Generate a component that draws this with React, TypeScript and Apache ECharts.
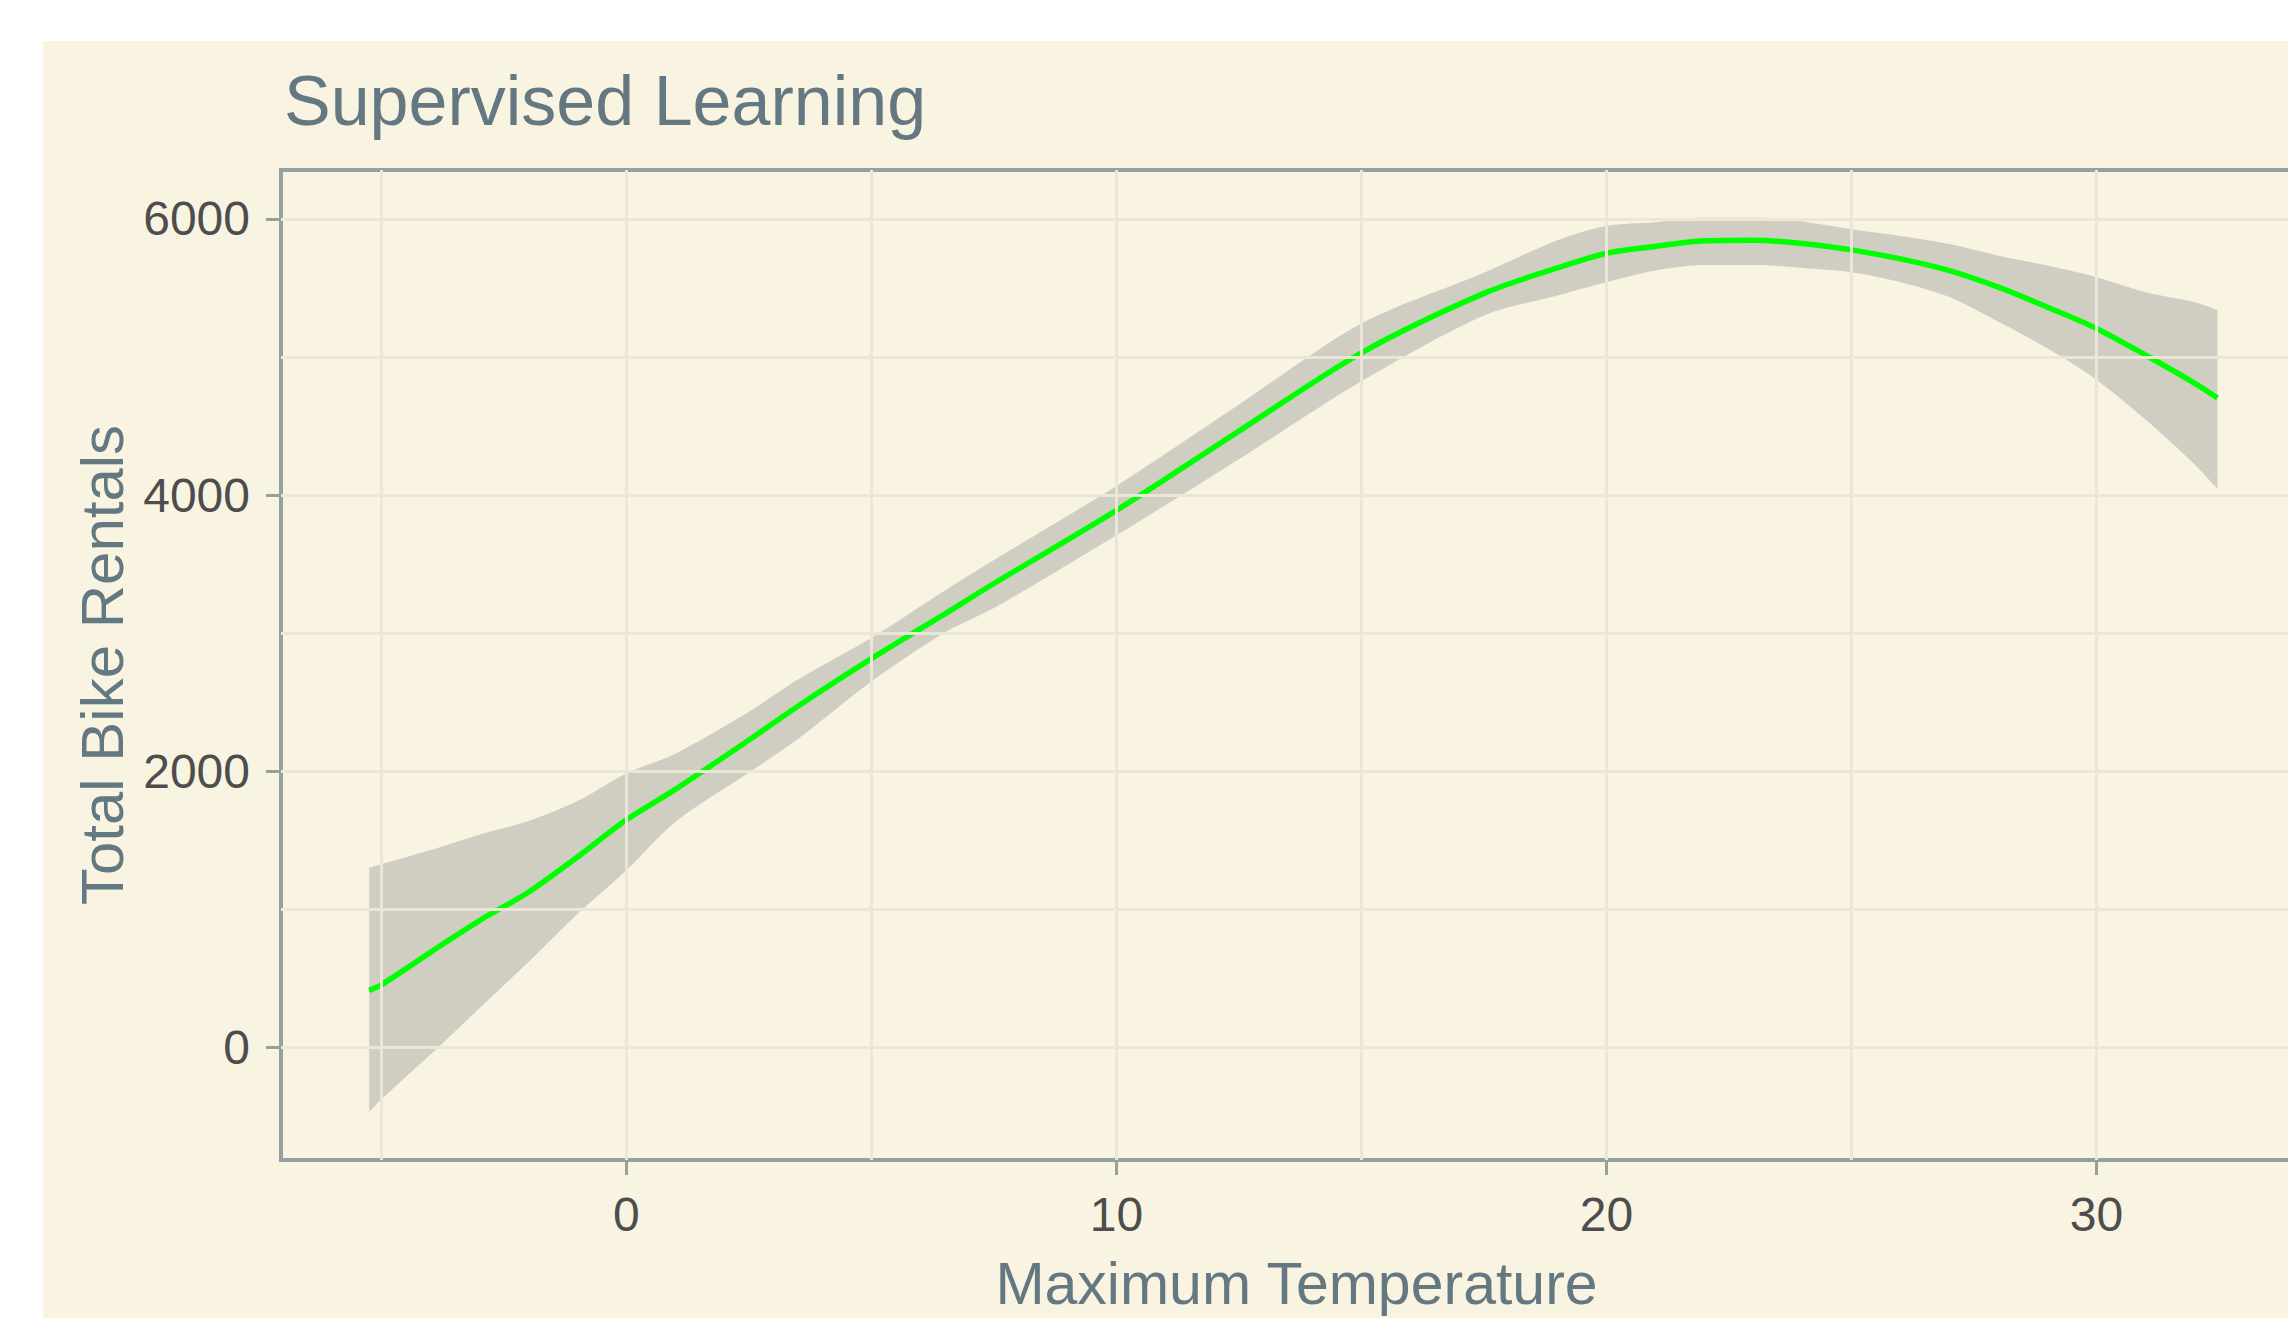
import React, { useEffect, useRef } from "react";
import * as echarts from "echarts";

// Loess fit of total bike rentals against maximum temperature
const temperature = [-5.25, -5, -4, -3, -2, -1, 0, 1, 2.5, 3.5, 5, 6.5, 7.5, 10, 12.5, 15, 17.5, 19, 20, 21, 22, 23, 24, 25, 26, 27, 28, 29, 30, 31, 32, 32.47];
const fitted = [415, 455, 690, 920, 1125, 1380, 1650, 1870, 2227, 2472, 2816, 3140, 3360, 3889, 4463, 5030, 5460, 5644, 5750, 5800, 5841, 5845, 5821, 5775, 5710, 5625, 5505, 5360, 5206, 5014, 4811, 4703];
const lower = [-467, -374, -50, 285, 620, 968, 1285, 1634, 1991, 2234, 2651, 3005, 3182, 3709, 4260, 4823, 5300, 5445, 5541, 5625, 5665, 5665, 5644, 5613, 5541, 5433, 5254, 5062, 4835, 4547, 4224, 4045];
const upper = [1302, 1327, 1430, 1542, 1640, 1785, 1985, 2128, 2431, 2665, 2967, 3310, 3530, 4066, 4655, 5242, 5610, 5845, 5948, 5975, 6010, 6010, 5980, 5924, 5876, 5817, 5733, 5661, 5577, 5469, 5397, 5338];

const xTickValues = [0, 10, 20, 30];
const yTickValues = [0, 2000, 4000, 6000];
const xGridValues = [-5, 0, 5, 10, 15, 20, 25, 30];
const yGridValues = [0, 1000, 2000, 3000, 4000, 5000, 6000];

const FONT = "'Liberation Sans', Arial, sans-serif";
const TITLE_COLOR = "#647882";
const TICK_COLOR = "#4D4D4D";
const BORDER_COLOR = "#93A1A1";
const GRID_COLOR = "#EBE6D5";

export default function App() {
  const ref = useRef<HTMLDivElement>(null);

  useEffect(() => {
    document.body.style.margin = "0";
    document.body.style.background = "#FFFFFF";
    if (!ref.current) return;
    const chart = echarts.init(ref.current, undefined, { renderer: "svg" });

    // value first, temperature second, so that stacking acts on the value dimension
    const lowerData = temperature.map((t, i) => [lower[i], t]);
    const widthData = temperature.map((t, i) => [upper[i] - lower[i], t]);
    const fitData = temperature.map((t, i) => [t, fitted[i]]);

    const axisCommon = {
      type: "value",
      axisLine: { show: true, onZero: false, lineStyle: { color: BORDER_COLOR, width: 4 } },
      splitLine: { show: false },
    };

    chart.setOption({
      animation: false,
      backgroundColor: "#F9F4E1",
      textStyle: { fontFamily: FONT },
      title: {
        text: "Supervised Learning",
        left: 236,
        top: 20,
        textStyle: { fontSize: 70, fontWeight: "normal", color: TITLE_COLOR, fontFamily: FONT },
      },
      grid: {
        left: 238,
        top: 129,
        right: 0,
        bottom: 147,
        show: true,
        borderColor: BORDER_COLOR,
        borderWidth: 4,
        backgroundColor: "transparent",
      },
      xAxis: {
        ...axisCommon,
        min: -7.05,
        max: 34.4,
        name: "Maximum Temperature",
        nameLocation: "middle",
        nameGap: 94,
        nameTextStyle: { fontSize: 59, color: TITLE_COLOR, fontFamily: FONT },
        axisTick: {
          show: true,
          customValues: xTickValues,
          length: 15,
          lineStyle: { color: BORDER_COLOR, width: 3 },
        },
        axisLabel: {
          customValues: xTickValues,
          fontSize: 48,
          color: TICK_COLOR,
          margin: 30,
          fontFamily: FONT,
          formatter: (v: number) => String(v),
        },
      },
      yAxis: {
        ...axisCommon,
        min: -813,
        max: 6353,
        name: "Total Bike Rentals",
        nameLocation: "middle",
        nameGap: 139,
        nameRotate: 90,
        nameTextStyle: { fontSize: 60, color: TITLE_COLOR, fontFamily: FONT },
        axisTick: {
          show: true,
          customValues: yTickValues,
          length: 15,
          lineStyle: { color: BORDER_COLOR, width: 3 },
        },
        axisLabel: {
          customValues: yTickValues,
          fontSize: 48,
          color: TICK_COLOR,
          margin: 31,
          fontFamily: FONT,
          formatter: (v: number) => String(v),
        },
      },
      series: [
        {
          name: "grid",
          type: "line",
          data: [],
          z: 1,
          silent: true,
          markLine: {
            silent: true,
            symbol: ["none", "none"],
            label: { show: false },
            lineStyle: { color: GRID_COLOR, width: 3, type: "solid" },
            emphasis: { disabled: true },
            data: [
              ...xGridValues.map((v) => ({ xAxis: v })),
              ...yGridValues.map((v) => ({ yAxis: v })),
            ],
          },
        },
        {
          name: "lower",
          type: "line",
          data: lowerData,
          encode: { x: 1, y: 0 },
          stack: "band",
          stackStrategy: "all",
          smooth: 0.3,
          symbol: "none",
          z: 2,
          lineStyle: { opacity: 0 },
          silent: true,
        },
        {
          name: "band",
          type: "line",
          data: widthData,
          encode: { x: 1, y: 0 },
          stack: "band",
          stackStrategy: "all",
          smooth: 0.3,
          symbol: "none",
          z: 2,
          lineStyle: { opacity: 0 },
          areaStyle: { color: "rgba(153,153,153,0.42)", opacity: 1 },
          silent: true,
        },
        {
          name: "fit",
          type: "line",
          data: fitData,
          smooth: 0.3,
          symbol: "none",
          z: 3,
          lineStyle: { color: "#00FF00", width: 5.5 },
          silent: true,
        },
      ],
    });

    return () => chart.dispose();
  }, []);

  return (
    <div style={{ position: "relative", width: 2288, height: 1318, background: "#FFFFFF", overflow: "hidden" }}>
      <div
        ref={ref}
        style={{ position: "absolute", left: 43, top: 41, width: 2269, height: 1277 }}
      />
    </div>
  );
}
